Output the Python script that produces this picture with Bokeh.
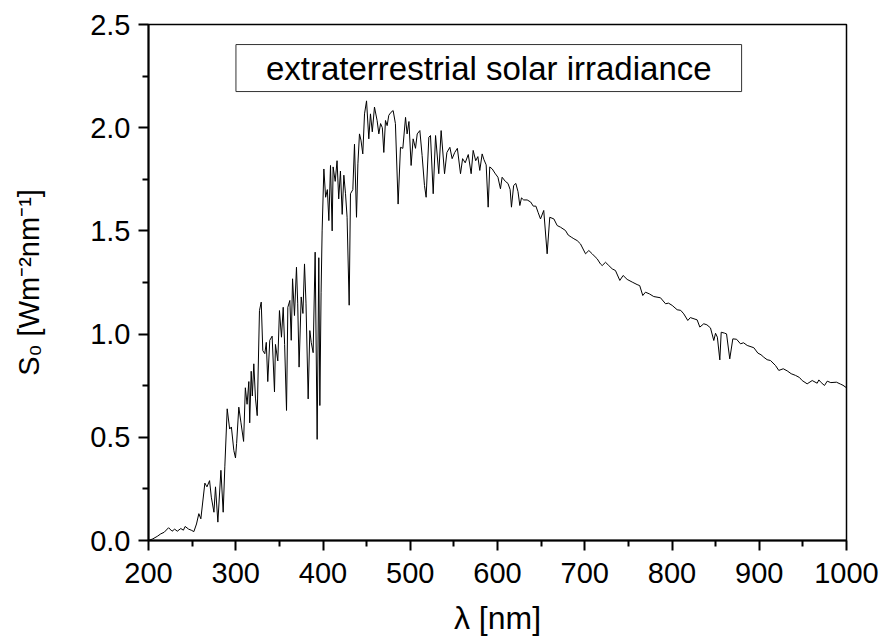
from bokeh.plotting import figure
from bokeh.models import FixedTicker, NumeralTickFormatter, Label
from bokeh.embed import file_html
from bokeh.resources import INLINE

# wavelength [nm] and extraterrestrial solar irradiance S0 [W m^-2 nm^-1]
wavelength = [
    200, 205, 210, 214, 218, 223, 227, 230, 233, 237, 240, 242, 246, 249, 252, 255,
    257.7, 260, 264.6, 267, 270, 272, 275, 276.8, 279.5, 283, 285.6, 287.5, 290.2, 293,
    295, 297.8, 299.7, 301, 303.5, 306, 309, 311, 313, 315, 316, 317.7, 319, 320.7,
    322.6, 324.6, 327.2, 329.2, 331, 333.3, 335, 336.7, 339, 341.7, 344.4, 345.5, 348.2,
    350.1, 352.4, 354.4, 356, 358.2, 359.7, 362, 363.6, 365.1, 367.3, 369.6, 371, 372.6,
    375, 377, 378.8, 380.5, 383, 384.9, 386.5, 388.7, 391, 393.3, 395.2, 396.4, 397.8,
    399, 401, 403, 405, 406.7, 408.6, 410.5, 411.6, 414, 416.1, 418, 420, 422, 423.9,
    425.8, 427.6, 430, 431.5, 434.2, 436.1, 438.4, 440, 441.8, 443.5, 445.6, 447.6,
    449.9, 452.5, 454.4, 456.5, 459, 462, 464, 466, 468, 469.7, 471.6, 473.5, 475.4,
    478, 480.4, 483, 486.1, 488.8, 491.5, 494.6, 496.4, 498.5, 501, 503.3, 506, 508,
    511, 513.6, 516.3, 518.2, 521.3, 523.2, 526.3, 529, 532.7, 535.4, 539.3, 542, 545.4,
    548, 551, 554, 557.6, 560, 563, 566.5, 569.8, 572.1, 575, 577.5, 579.7, 582.4,
    584.5, 587, 589.3, 591.1, 594, 597, 600.5, 603.4, 605.3, 609, 612, 614.5, 616,
    618.5, 621, 623.5, 625.6, 627.5, 630, 634, 638, 641, 644, 646.5, 649.3, 653, 656.9,
    659.9, 664.6, 668.4, 672.2, 677.9, 681, 684.5, 687.5, 691.3, 695.1, 700.9, 704.7,
    708.5, 714.2, 718, 720, 723.8, 727.6, 731.5, 735.2, 740.2, 744, 748.6, 754.4, 760,
    763, 766.5, 769.6, 774, 779.1, 786.8, 792.6, 796, 800.2, 805.9, 810, 813.5, 818.1,
    821, 828.8, 831.9, 836.4, 840, 844.1, 847.9, 849.9, 852, 854.8, 856.4, 860, 862.5,
    866.2, 869.7, 874, 878.5, 882, 886.2, 893.8, 898.4, 902, 905.2, 909, 912.9, 918.6,
    922.4, 927.5, 932, 936.6, 941.5, 946, 949.2, 954.9, 960.7, 966.4, 968.3, 971, 974.8,
    977.9, 982, 988.5, 993, 996, 1000,
]
irradiance = [
    0.000, 0.008, 0.020, 0.032, 0.040, 0.062, 0.045, 0.055, 0.045, 0.058, 0.050, 0.068,
    0.055, 0.050, 0.043, 0.080, 0.130, 0.105, 0.278, 0.260, 0.290, 0.210, 0.137, 0.260,
    0.089, 0.340, 0.137, 0.360, 0.638, 0.540, 0.550, 0.436, 0.400, 0.470, 0.646, 0.570,
    0.480, 0.740, 0.660, 0.770, 0.570, 0.820, 0.700, 0.856, 0.690, 0.605, 1.114, 1.155,
    0.920, 0.905, 0.960, 0.770, 0.970, 0.990, 0.720, 0.950, 0.870, 1.114, 0.985, 1.130,
    0.950, 0.630, 1.130, 1.163, 0.970, 1.268, 1.090, 1.324, 1.150, 0.840, 1.180, 1.100,
    1.340, 1.150, 0.686, 1.017, 0.960, 0.910, 1.397, 0.490, 1.370, 0.654, 1.200, 1.500,
    1.800, 1.663, 1.700, 1.550, 1.817, 1.500, 1.810, 1.740, 1.840, 1.655, 1.790, 1.580,
    1.770, 1.680, 1.566, 1.140, 1.680, 1.700, 1.920, 1.566, 1.825, 1.970, 1.940, 1.873,
    2.067, 2.130, 1.946, 2.067, 1.980, 2.100, 2.035, 1.970, 2.020, 2.000, 1.880, 2.035,
    2.010, 2.060, 2.075, 2.083, 2.020, 1.630, 1.905, 1.900, 2.050, 1.970, 2.030, 1.817,
    1.946, 1.900, 1.970, 1.986, 1.865, 1.720, 1.663, 1.954, 1.962, 1.680, 1.962, 1.777,
    1.986, 1.777, 1.880, 1.905, 1.850, 1.880, 1.900, 1.777, 1.850, 1.830, 1.870, 1.777,
    1.890, 1.840, 1.860, 1.793, 1.873, 1.845, 1.820, 1.615, 1.810, 1.800, 1.780, 1.760,
    1.704, 1.760, 1.740, 1.730, 1.700, 1.615, 1.720, 1.730, 1.690, 1.623, 1.660, 1.650,
    1.650, 1.640, 1.620, 1.620, 1.590, 1.558, 1.599, 1.389, 1.566, 1.558, 1.526, 1.518,
    1.502, 1.480, 1.470, 1.462, 1.453, 1.437, 1.389, 1.405, 1.389, 1.365, 1.340, 1.332,
    1.348, 1.332, 1.316, 1.308, 1.260, 1.284, 1.265, 1.252, 1.240, 1.235, 1.187, 1.203,
    1.195, 1.182, 1.176, 1.147, 1.150, 1.139, 1.118, 1.115, 1.098, 1.066, 1.080, 1.069,
    1.034, 1.050, 1.045, 1.030, 0.969, 1.004, 0.985, 0.875, 1.009, 1.005, 1.001, 0.880,
    0.977, 0.975, 0.953, 0.958, 0.945, 0.934, 0.908, 0.900, 0.888, 0.876, 0.872, 0.848,
    0.824, 0.832, 0.822, 0.808, 0.800, 0.790, 0.775, 0.759, 0.775, 0.762, 0.778, 0.765,
    0.751, 0.772, 0.765, 0.767, 0.758, 0.752, 0.740,
]

x_major = [200, 300, 400, 500, 600, 700, 800, 900, 1000]
x_minor = [250, 350, 450, 550, 650, 750, 850, 950]
y_major = [0.0, 0.5, 1.0, 1.5, 2.0, 2.5]
y_minor = [0.25, 0.75, 1.25, 1.75, 2.25]

legend_text = "extraterrestrial solar irradiance"
x_label = "λ [nm]"
y_label = "S\u2080 [Wm\u207b\u00b2nm\u207b\u00b9]"

FONT = "Liberation Sans"

p = figure(width=882, height=639, x_range=(200, 1000), y_range=(0, 2.5),
           output_backend="svg", toolbar_location=None,
           min_border_left=148, min_border_right=36, min_border_top=24, min_border_bottom=99)
p.grid.visible = False
p.background_fill_color = "white"
p.border_fill_color = "white"
p.outline_line_color = "black"
p.outline_line_width = 1.5

p.line(wavelength, irradiance, line_color="black", line_width=1)

p.xaxis.ticker = FixedTicker(ticks=x_major, minor_ticks=x_minor)
p.yaxis.ticker = FixedTicker(ticks=y_major, minor_ticks=y_minor)
p.yaxis.formatter = NumeralTickFormatter(format="0.0")

for ax in (p.xaxis, p.yaxis):
    ax.axis_line_width = 2
    ax.axis_line_color = "black"
    ax.major_tick_line_width = 2
    ax.minor_tick_line_width = 2
    ax.major_tick_in = 0
    ax.major_tick_out = 10
    ax.minor_tick_in = 0
    ax.minor_tick_out = 6
    ax.major_label_text_font = FONT
    ax.major_label_text_font_size = "29px"
    ax.major_label_text_color = "black"
    ax.axis_label_text_font = FONT
    ax.axis_label_text_font_style = "normal"
    ax.axis_label_text_color = "black"

p.xaxis.axis_label = x_label
p.yaxis.axis_label = y_label
p.xaxis.axis_label_text_font_size = "32px"
p.yaxis.axis_label_text_font_size = "29px"
p.xaxis.major_label_standoff = 12
p.yaxis.major_label_standoff = 8
p.xaxis.axis_label_standoff = 14
p.yaxis.axis_label_standoff = 42

p.add_layout(Label(x=590, y=2.289, text=legend_text, text_align="center",
                   text_baseline="middle", text_font=FONT, text_font_size="33px",
                   text_color="black", background_fill_color="white",
                   border_line_color="#333333", border_line_width=1, padding=(30, 5)))

open("out.html", "w").write(file_html(p, INLINE))
